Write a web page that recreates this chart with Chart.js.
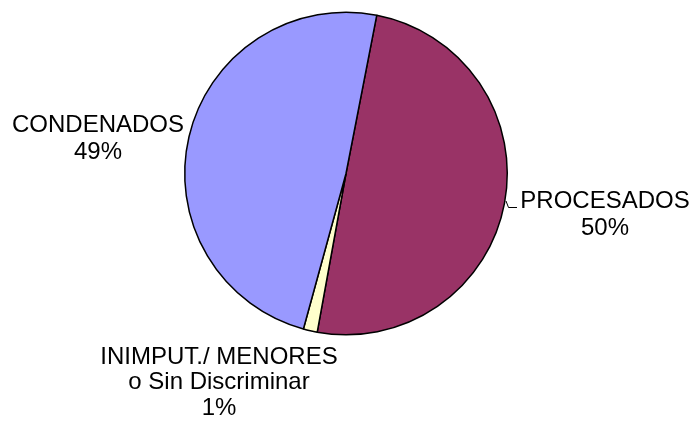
<!DOCTYPE html>
<html>
<head>
<meta charset="utf-8">
<script src="https://cdn.jsdelivr.net/npm/chart.js@4/dist/chart.umd.min.js"></script>
<style>
  html, body { margin: 0; padding: 0; background: #fff; }
  #wrap { width: 693px; height: 421px; }
</style>
</head>
<body>
<div id="wrap"><canvas id="myChart" width="693" height="421"></canvas></div>
<script>
// categorias y valores
var categories = ['PROCESADOS', 'INIMPUT./ MENORES|o Sin Discriminar', 'CONDENADOS'];
var values = [49.8, 1.4, 48.8];
var percentLabels = ['50%', '1%', '49%'];
var colors = ['#993366', '#FFFFCC', '#9999FF'];

// donde va cada etiqueta (centro x, linea base de la primera linea, interlineado)
var labelSpots = [
  { x: 605, y: 207.5, gap: 27 },
  { x: 219, y: 363.5, gap: 25.5 },
  { x: 98, y: 131.5, gap: 27 }
];

var outsideLabels = {
  id: 'outsideLabels',
  afterDraw: function(chart) {
    var ctx = chart.ctx;
    ctx.save();
    ctx.fillStyle = '#000';
    ctx.font = '24px Arial, "Liberation Sans", sans-serif';
    ctx.textAlign = 'center';
    ctx.textBaseline = 'alphabetic';
    for (var i = 0; i < categories.length; i++) {
      var lines = categories[i].split('|');
      lines.push(percentLabels[i]);
      var spot = labelSpots[i];
      for (var j = 0; j < lines.length; j++) {
        ctx.fillText(lines[j], spot.x, spot.y + j * spot.gap);
      }
    }
    // linea guia de PROCESADOS
    ctx.strokeStyle = '#000';
    ctx.lineWidth = 1;
    ctx.beginPath();
    ctx.moveTo(506, 201);
    ctx.lineTo(508.5, 207.5);
    ctx.lineTo(517, 207.5);
    ctx.stroke();
    ctx.restore();
  }
};

var ctx = document.getElementById('myChart').getContext('2d');
var chart = new Chart(ctx, {
  type: 'pie',
  data: {
    labels: categories,
    datasets: [{
      data: values,
      backgroundColor: colors,
      borderColor: '#000',
      borderWidth: 1.5
    }]
  },
  options: {
    responsive: false,
    animation: false,
    rotation: 11,
    layout: { padding: { left: 184, right: 185, top: 11, bottom: 85 } },
    plugins: {
      legend: { display: false },
      tooltip: { enabled: false }
    }
  },
  plugins: [outsideLabels]
});
</script>
</body>
</html>
